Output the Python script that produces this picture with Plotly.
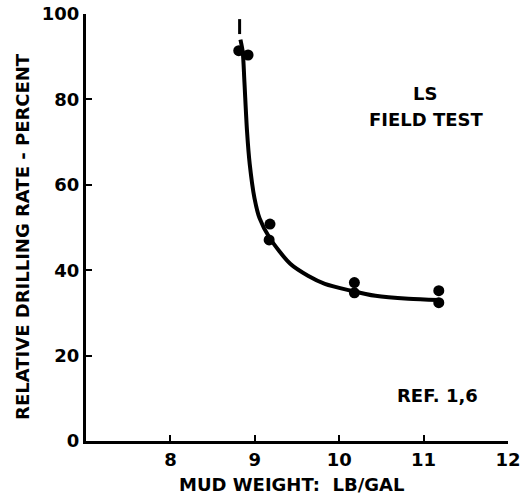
import plotly.graph_objects as go

# measured data points (mud weight lb/gal, relative drilling rate %)
pt_x = [8.81, 8.92, 9.18, 9.17, 10.18, 10.18, 11.18, 11.18]
pt_y = [91.4, 90.4, 50.8, 47.1, 37.1, 34.7, 35.2, 32.4]

# fitted curve
curve_x = [8.83, 8.857, 8.877, 8.908, 8.94, 8.996, 9.056, 9.175, 9.42, 9.63, 9.83, 10.14, 10.43, 10.82, 11.18]
curve_y = [94.0, 91.1, 84.1, 72.5, 64.8, 56.9, 52.2, 47.6, 41.5, 38.7, 36.8, 35.2, 34.0, 33.3, 33.0]

# dashed extension at top
dash_x = [8.82, 8.82]
dash_y = [95.3, 98.8]

x_ticks = [8, 9, 10, 11, 12]
y_ticks = [0, 20, 40, 60, 80, 100]

x_title = "MUD WEIGHT:  LB/GAL"
y_title = "RELATIVE DRILLING RATE - PERCENT"

FONT = "DejaVu Sans, Liberation Sans, Arial, sans-serif"

fig = go.Figure()
fig.add_trace(go.Scatter(x=curve_x, y=curve_y, mode="lines",
                         line=dict(color="black", width=4, shape="spline", smoothing=0.8), showlegend=False))
fig.add_trace(go.Scatter(x=dash_x, y=dash_y, mode="lines", line=dict(color="black", width=3), showlegend=False))
fig.add_trace(go.Scatter(x=pt_x, y=pt_y, mode="markers", marker=dict(color="black", size=11), showlegend=False))

fig.update_layout(
    width=522, height=502,
    margin=dict(l=86, r=14, t=14, b=61),
    paper_bgcolor="white", plot_bgcolor="white",
    font=dict(family=FONT, size=17, color="black", weight="bold"),
    xaxis=dict(range=[7, 12], tickvals=x_ticks, ticks="inside", ticklen=6, tickwidth=2, tickcolor="black",
               showline=True, linecolor="black", linewidth=3, showgrid=False, zeroline=False, automargin=False,
               tickfont=dict(family=FONT, size=18, weight="bold")),
    yaxis=dict(range=[0, 100], tickvals=y_ticks, ticks="inside", ticklen=6, tickwidth=2, tickcolor="black",
               showline=True, linecolor="black", linewidth=3, showgrid=False, zeroline=False, automargin=False,
               tickfont=dict(family=FONT, size=18, weight="bold")),
    annotations=[
        dict(x=9.43, y=-0.103, xref="x", yref="paper", text=x_title, showarrow=False,
             font=dict(family=FONT, size=18, weight="bold"), xanchor="center", yanchor="middle"),
        dict(x=-0.152, y=0.48, xref="paper", yref="paper", text=y_title, showarrow=False, textangle=-90,
             font=dict(family=FONT, size=18, weight="bold"), xanchor="center", yanchor="middle"),
        dict(x=11.02, y=81.4, xref="x", yref="y", text="LS", showarrow=False, font=dict(family=FONT, size=18, weight="bold")),
        dict(x=11.03, y=75.3, xref="x", yref="y", text="FIELD TEST", showarrow=False, font=dict(family=FONT, size=18, weight="bold")),
        dict(x=11.17, y=10.7, xref="x", yref="y", text="REF. 1,6", showarrow=False, font=dict(family=FONT, size=18, weight="bold")),
    ],
)

fig.write_html("out.html")
